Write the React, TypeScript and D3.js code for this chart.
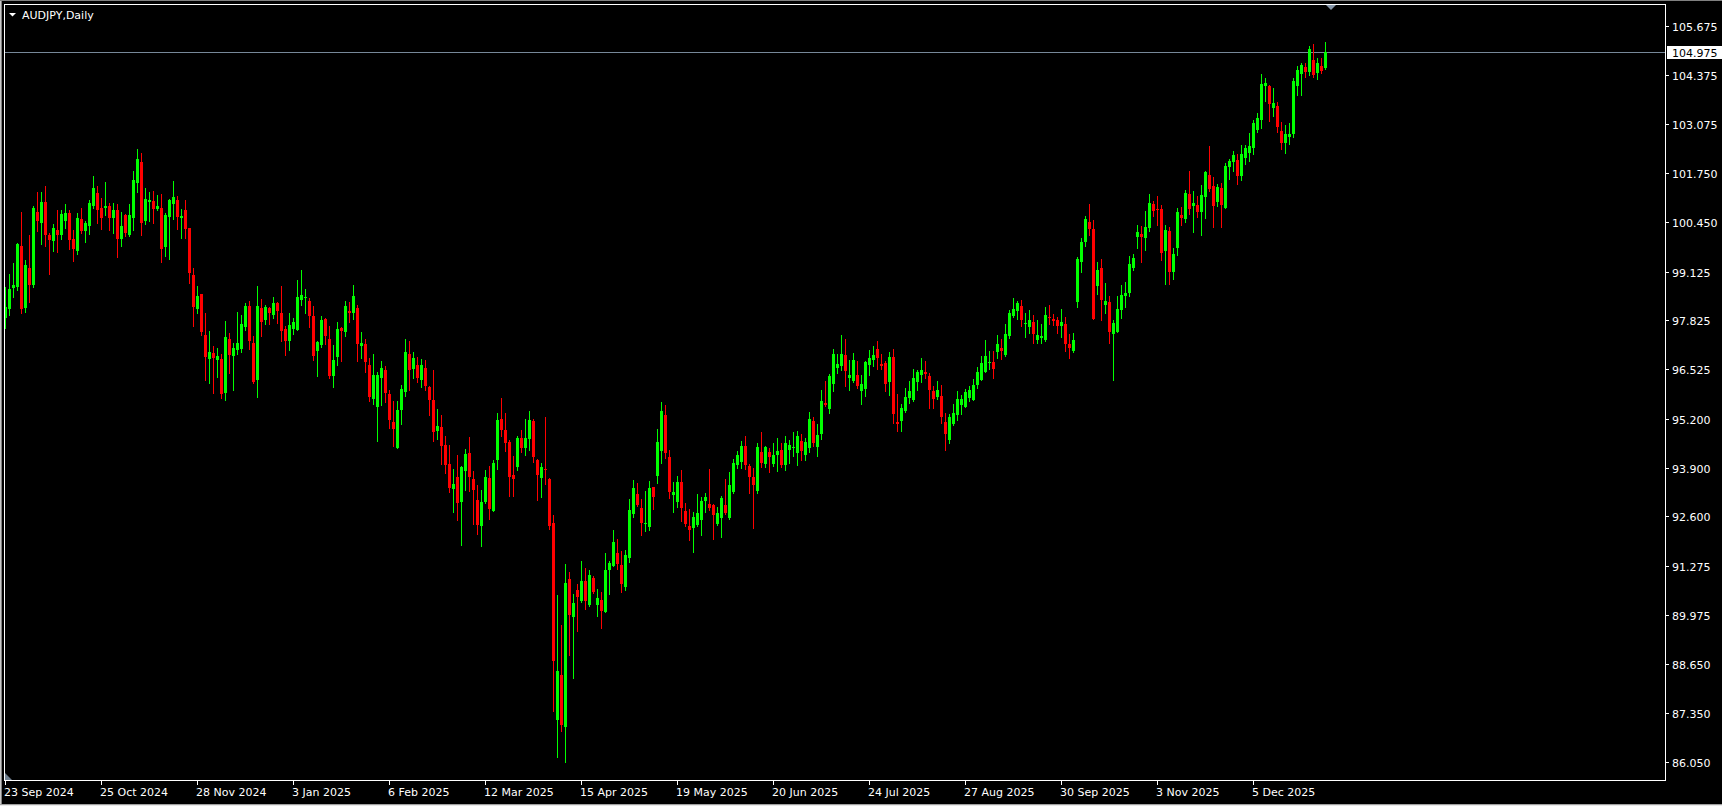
import React, { useEffect, useRef } from "react";
import * as d3 from "d3";

// chart title (symbol, period)
const chartTitle = "AUDJPY,Daily";

// time scale labels, one every 24 bars starting at the first bar
const timeLabels = [
    "23 Sep 2024", "25 Oct 2024", "28 Nov 2024", "3 Jan 2025", "6 Feb 2025",
    "12 Mar 2025", "15 Apr 2025", "19 May 2025", "20 Jun 2025", "24 Jul 2025",
    "27 Aug 2025", "30 Sep 2025", "3 Nov 2025", "5 Dec 2025",
];
const labelEvery = 24;

// price scale labels
const priceTicks = [
    105.675, 104.375, 103.075, 101.75, 100.45, 99.125, 97.825, 96.525,
    95.2, 93.9, 92.6, 91.275, 89.975, 88.65, 87.35, 86.05,
];
const bidPrice = 104.975;

// daily bars (OHLC), oldest first
const opens = [
    97.88, 98.12, 98.68, 98.72, 99.81, 98.16, 99.22, 98.78, 100.72, 100.43,
    100.98, 100.10, 99.94, 100.24, 100.10, 100.48, 100.69, 99.99, 99.68, 100.53,
    100.21, 100.34, 100.88, 101.22, 100.82, 100.82, 100.88, 100.56, 100.77, 99.99,
    100.63, 100.10, 100.56, 101.49, 102.05, 100.47, 100.98, 101.01, 100.80, 100.82,
    99.78, 100.58, 100.93, 101.03, 100.56, 100.77, 100.29, 99.03, 98.13, 98.53,
    97.44, 96.80, 96.96, 96.77, 96.80, 95.89, 97.33, 96.88, 97.04, 97.06,
    97.65, 98.21, 97.22, 96.23, 98.16, 97.83, 98.16, 97.97, 98.29, 98.02,
    97.60, 97.28, 97.60, 97.57, 98.36, 98.42, 98.35, 97.94, 97.01, 97.17,
    97.86, 97.33, 96.34, 96.85, 97.62, 97.51, 98.07, 98.02, 98.16, 97.14,
    97.19, 96.63, 95.73, 95.51, 96.29, 96.50, 95.85, 95.12, 94.43, 95.44,
    95.91, 96.92, 96.53, 96.63, 96.23, 96.56, 96.04, 95.70, 94.88, 94.98,
    94.50, 94.00, 93.33, 93.65, 92.98, 93.81, 94.28, 93.59, 93.03, 92.34,
    92.98, 93.62, 92.74, 94.10, 95.19, 94.90, 94.58, 93.70, 93.91, 94.69,
    94.41, 94.66, 95.14, 94.10, 93.63, 93.85, 93.60, 92.42, 87.17, 88.37,
    86.97, 90.93, 89.92, 90.64, 90.34, 90.88, 90.24, 90.96, 90.24, 90.37,
    90.05, 91.17, 91.28, 91.62, 91.30, 90.72, 91.49, 92.66, 93.20, 92.82,
    92.40, 92.32, 93.38, 93.68, 94.34, 95.30, 94.18, 93.17, 92.98, 93.52,
    92.74, 92.34, 92.29, 92.37, 92.50, 93.01, 92.93, 92.90, 92.40, 92.56,
    92.90, 92.56, 93.25, 93.97, 94.05, 94.48, 93.94, 93.65, 93.28, 94.32,
    94.00, 94.32, 94.00, 94.24, 94.37, 93.97, 94.37, 94.42, 94.29, 94.61,
    94.24, 94.43, 95.14, 94.45, 94.80, 95.62, 95.46, 96.13, 96.56, 96.61,
    96.90, 96.29, 96.21, 96.37, 95.94, 96.00, 96.63, 96.77, 97.06, 96.66,
    96.69, 96.18, 96.85, 95.11, 95.14, 95.41, 95.76, 95.70, 96.18, 96.37,
    96.45, 96.34, 95.94, 95.78, 95.81, 95.11, 94.63, 95.06, 95.30, 95.57,
    95.51, 95.76, 95.70, 96.10, 96.24, 96.45, 96.71, 96.71, 96.98, 97.09,
    96.90, 97.41, 97.94, 98.08, 98.21, 97.74, 97.65, 97.78, 97.30, 97.36,
    97.30, 97.92, 97.86, 97.83, 97.68, 97.73, 97.20, 97.01, 98.32, 99.38,
    99.92, 100.45, 100.26, 98.74, 99.22, 98.24, 98.32, 97.46, 97.52, 98.10,
    98.48, 98.55, 99.22, 100.05, 100.13, 100.02, 100.29, 100.93, 100.79, 100.79,
    99.67, 100.21, 99.12, 99.76, 100.64, 100.53, 101.20, 100.88, 100.90, 100.72,
    101.12, 101.70, 101.41, 100.98, 101.36, 100.82, 101.92, 102.05, 102.10, 101.68,
    102.16, 102.29, 102.42, 102.90, 103.17, 104.07, 104.07, 103.49, 103.54, 102.88,
    102.56, 102.72, 102.80, 104.07, 104.39, 104.58, 104.45, 104.77, 104.42, 104.61,
    104.55,
];
const highs = [
    98.72, 99.06, 99.35, 99.90, 100.72, 99.44, 100.10, 100.88, 101.25, 101.25,
    101.41, 100.15, 100.40, 100.77, 100.77, 100.93, 100.77, 100.24, 100.68, 100.82,
    100.47, 101.03, 101.67, 101.41, 101.09, 101.51, 100.96, 100.96, 100.93, 100.72,
    100.66, 100.93, 101.81, 102.40, 102.29, 101.35, 101.25, 101.27, 101.17, 101.19,
    100.69, 101.06, 101.54, 101.14, 100.80, 101.03, 100.29, 99.22, 98.74, 98.53,
    98.02, 97.54, 97.14, 97.09, 96.93, 97.81, 97.49, 97.22, 98.05, 97.97,
    98.29, 98.34, 97.41, 98.74, 98.39, 98.24, 98.18, 98.45, 98.32, 98.74,
    97.67, 98.02, 97.89, 98.90, 99.17, 98.66, 98.42, 98.20, 97.28, 97.94,
    97.89, 97.67, 97.17, 97.78, 97.65, 98.34, 98.32, 98.77, 98.23, 97.51,
    97.33, 96.82, 96.92, 96.45, 96.75, 96.61, 95.97, 95.67, 95.67, 96.10,
    97.33, 97.28, 96.98, 96.85, 96.79, 96.76, 96.07, 96.50, 95.46, 95.30,
    94.74, 94.50, 93.86, 94.24, 93.94, 94.40, 94.72, 93.81, 93.43, 93.30,
    93.83, 93.94, 94.10, 95.35, 95.75, 95.35, 94.63, 94.21, 94.74, 94.90,
    95.20, 95.41, 95.19, 94.14, 94.02, 95.25, 93.62, 92.64, 90.50, 89.70,
    91.33, 91.12, 90.52, 90.80, 91.41, 91.22, 91.17, 91.01, 90.66, 90.58,
    91.62, 91.41, 92.24, 92.00, 91.68, 91.70, 93.06, 93.57, 93.49, 93.06,
    93.28, 93.54, 93.38, 94.93, 95.65, 95.57, 94.37, 93.52, 93.68, 93.84,
    92.96, 92.80, 92.72, 93.20, 93.12, 93.22, 93.86, 92.93, 92.85, 93.14,
    93.60, 93.78, 94.13, 94.34, 94.61, 94.74, 94.00, 93.89, 94.56, 94.85,
    94.48, 94.42, 94.56, 94.69, 94.56, 94.74, 94.64, 94.85, 94.88, 94.80,
    94.69, 95.38, 95.25, 95.06, 95.97, 96.21, 96.40, 97.06, 96.93, 97.44,
    97.33, 96.77, 96.95, 96.74, 96.37, 96.74, 97.03, 97.14, 97.28, 96.93,
    96.74, 96.98, 97.06, 95.86, 95.60, 96.02, 96.21, 96.53, 96.50, 96.82,
    96.74, 96.42, 96.08, 96.21, 96.10, 95.36, 95.33, 95.60, 95.94, 95.84,
    96.00, 96.08, 96.26, 96.58, 96.87, 97.30, 97.01, 97.01, 97.44, 97.33,
    97.73, 98.10, 98.42, 98.34, 98.37, 98.02, 98.10, 97.97, 97.83, 97.73,
    98.18, 98.23, 97.99, 97.91, 98.13, 97.92, 97.46, 97.49, 99.52, 100.02,
    100.61, 100.93, 100.50, 99.38, 99.46, 98.82, 98.48, 97.84, 98.48, 98.77,
    98.85, 99.54, 99.60, 100.37, 100.34, 100.74, 101.20, 101.01, 101.14, 100.90,
    100.37, 100.31, 99.76, 100.82, 100.85, 101.30, 101.81, 101.28, 101.14, 101.44,
    101.81, 102.48, 101.65, 101.46, 101.49, 102.02, 102.13, 102.34, 102.26, 102.50,
    102.50, 102.82, 103.17, 103.35, 104.40, 104.29, 104.10, 104.02, 103.65, 103.12,
    103.04, 103.09, 104.29, 104.61, 104.69, 104.69, 105.14, 105.19, 104.82, 104.82,
    105.25,
];
const lows = [
    97.61, 97.98, 98.46, 98.64, 98.01, 98.05, 98.32, 98.71, 100.22, 99.86,
    99.81, 99.06, 99.68, 99.65, 99.99, 100.29, 99.74, 99.42, 99.60, 100.15,
    99.92, 100.13, 100.82, 100.43, 100.27, 100.63, 100.24, 100.16, 99.52, 99.81,
    100.08, 100.08, 100.24, 101.25, 100.10, 100.40, 100.47, 100.42, 100.77, 99.38,
    99.54, 99.46, 100.53, 100.26, 100.02, 100.02, 98.82, 97.68, 98.02, 97.44,
    96.24, 96.16, 95.89, 96.32, 95.75, 95.70, 96.42, 95.97, 96.93, 96.98,
    97.57, 97.06, 96.16, 95.78, 97.41, 97.73, 97.73, 97.90, 97.76, 97.28,
    96.90, 97.04, 97.47, 97.57, 98.23, 98.02, 97.64, 96.76, 96.34, 97.11,
    97.19, 96.29, 96.04, 96.63, 96.75, 97.41, 97.78, 97.86, 96.75, 96.82,
    96.45, 95.67, 95.59, 94.60, 95.57, 95.65, 94.96, 94.47, 94.42, 95.06,
    95.81, 95.97, 96.29, 96.18, 96.04, 95.97, 95.30, 94.60, 94.66, 94.00,
    93.75, 93.25, 92.71, 92.50, 91.83, 93.30, 93.27, 92.39, 92.12, 91.81,
    92.96, 92.53, 92.74, 93.86, 94.74, 94.34, 93.14, 93.14, 93.83, 94.31,
    94.24, 94.37, 94.06, 93.04, 93.12, 93.47, 92.27, 87.42, 86.17, 86.88,
    86.06, 88.90, 88.30, 89.54, 90.32, 90.13, 90.21, 90.56, 89.94, 89.62,
    90.05, 90.53, 91.28, 91.20, 90.58, 90.64, 91.38, 92.58, 92.88, 92.10,
    92.21, 92.24, 92.80, 93.49, 94.02, 94.16, 93.09, 92.72, 92.85, 92.48,
    92.34, 91.97, 91.65, 92.34, 92.10, 92.72, 92.77, 92.00, 92.37, 92.05,
    92.66, 92.53, 93.22, 93.89, 93.89, 93.86, 93.22, 92.29, 93.22, 93.92,
    93.92, 93.78, 93.94, 93.81, 93.92, 93.84, 94.02, 94.21, 93.97, 94.10,
    94.10, 94.32, 94.48, 94.21, 94.66, 95.54, 95.36, 95.94, 96.42, 96.50,
    96.08, 95.97, 96.18, 96.02, 95.60, 95.81, 96.37, 96.61, 96.53, 96.53,
    95.94, 95.84, 95.09, 94.88, 94.88, 95.38, 95.62, 95.68, 95.97, 96.18,
    96.29, 95.49, 95.49, 95.73, 95.09, 94.37, 94.55, 95.04, 95.17, 95.33,
    95.51, 95.68, 95.70, 96.02, 96.24, 96.45, 96.53, 96.29, 96.82, 96.80,
    96.87, 97.36, 97.91, 97.86, 97.67, 97.38, 97.49, 97.22, 97.22, 97.22,
    97.27, 97.73, 97.70, 97.49, 97.38, 97.01, 96.82, 96.98, 98.18, 99.12,
    99.81, 100.10, 97.86, 98.53, 97.84, 98.02, 97.22, 96.24, 97.52, 97.89,
    98.18, 98.48, 99.17, 99.76, 99.38, 99.70, 100.21, 100.61, 100.37, 99.44,
    98.80, 98.80, 98.93, 99.57, 100.37, 100.45, 100.66, 100.18, 100.58, 100.10,
    100.56, 101.28, 100.32, 100.88, 100.32, 100.82, 101.60, 101.81, 101.46, 101.57,
    101.99, 102.08, 102.26, 102.85, 102.95, 103.67, 103.14, 103.27, 102.85, 102.40,
    102.29, 102.53, 102.72, 103.83, 103.83, 104.31, 104.37, 104.31, 104.26, 104.42,
    104.53,
];
const closes = [
    98.19, 98.65, 98.77, 99.86, 98.14, 99.30, 98.78, 100.82, 100.48, 100.98,
    100.11, 99.97, 100.29, 100.10, 100.66, 100.69, 99.97, 99.74, 100.56, 100.21,
    100.42, 100.96, 101.35, 100.78, 100.56, 100.88, 100.56, 100.77, 99.99, 100.34,
    100.16, 100.63, 101.57, 102.13, 100.42, 101.06, 101.03, 100.80, 100.88, 99.73,
    100.63, 101.03, 101.12, 100.58, 100.61, 100.26, 99.09, 98.18, 98.48, 97.52,
    96.85, 96.98, 96.82, 96.88, 95.87, 97.38, 96.90, 97.09, 97.22, 97.73,
    98.21, 97.28, 96.17, 98.20, 97.78, 98.18, 98.02, 98.29, 98.07, 97.54,
    97.28, 97.70, 97.78, 98.45, 98.50, 98.45, 97.94, 96.88, 97.25, 97.83,
    97.41, 96.34, 96.76, 97.60, 97.54, 98.20, 98.02, 98.48, 97.19, 97.22,
    96.72, 95.78, 96.37, 96.37, 96.56, 95.88, 95.16, 94.93, 95.44, 96.00,
    96.98, 96.50, 96.82, 96.29, 96.63, 96.07, 95.70, 94.85, 95.00, 94.47,
    93.97, 93.35, 93.46, 92.96, 93.91, 94.26, 93.65, 93.30, 92.37, 92.98,
    93.65, 92.80, 94.02, 95.16, 94.90, 94.56, 93.65, 93.59, 94.69, 94.43,
    94.70, 95.17, 94.19, 93.69, 93.92, 93.83, 92.35, 88.73, 88.48, 87.04,
    90.82, 89.97, 90.29, 90.45, 90.88, 90.34, 91.04, 90.58, 90.42, 90.08,
    91.17, 91.36, 91.92, 91.33, 90.80, 91.57, 92.77, 93.36, 92.90, 92.42,
    92.42, 93.36, 93.12, 94.58, 95.41, 94.29, 93.25, 93.25, 93.52, 92.82,
    92.40, 92.24, 92.58, 92.69, 93.01, 93.12, 92.82, 92.64, 92.69, 93.09,
    92.69, 93.44, 94.02, 94.24, 94.48, 93.97, 93.65, 93.44, 94.45, 94.02,
    94.45, 94.18, 94.24, 94.34, 93.97, 94.56, 94.50, 94.44, 94.74, 94.34,
    94.58, 95.20, 94.56, 94.77, 95.68, 95.57, 96.34, 96.93, 96.66, 96.93,
    96.47, 96.37, 96.77, 96.08, 96.13, 96.71, 96.82, 96.90, 96.82, 96.61,
    96.13, 96.85, 95.33, 95.06, 95.49, 95.78, 95.94, 96.29, 96.45, 96.50,
    96.40, 95.97, 95.73, 95.97, 95.25, 94.80, 95.25, 95.36, 95.73, 95.73,
    95.91, 95.97, 96.10, 96.45, 96.69, 96.87, 96.72, 96.53, 97.20, 97.01,
    97.46, 98.02, 98.13, 98.29, 97.83, 97.76, 97.83, 97.46, 97.44, 97.41,
    97.97, 97.90, 97.81, 97.68, 97.78, 97.20, 97.09, 97.30, 99.46, 99.92,
    100.53, 100.26, 97.86, 99.17, 98.37, 98.34, 97.52, 97.76, 98.13, 98.50,
    98.55, 99.33, 99.49, 100.18, 100.05, 100.31, 100.96, 100.74, 100.77, 99.62,
    100.23, 99.12, 99.60, 100.72, 100.56, 101.22, 100.80, 100.96, 100.72, 101.17,
    101.78, 101.33, 100.88, 101.38, 100.90, 101.94, 102.08, 102.24, 101.68, 102.26,
    102.42, 102.47, 103.09, 103.22, 104.13, 104.15, 103.60, 103.62, 102.98, 102.56,
    102.80, 102.80, 104.21, 104.50, 104.63, 104.45, 105.06, 104.37, 104.69, 104.47,
    104.975,
];

const FONT = "'DejaVu Sans', Tahoma, sans-serif";

const App: React.FC = () => {
    const svgRef = useRef<SVGSVGElement>(null);

    useEffect(() => {
        if (!svgRef.current) return;
        const width = 1722;
        const height = 806;
        // chart frame (pixel edges)
        const frame = { left: 4, top: 4, right: 1665, bottom: 780 };

        const n = opens.length;
        const xScale = d3.scaleLinear().domain([0, n - 1]).range([5, 5 + 4 * (n - 1)]);
        const yScale = d3.scaleLinear().domain([86.05, 105.675]).range([762, 26]);

        const svg = d3.select(svgRef.current);
        svg.selectAll("*").remove();

        // window background + thin 3d border
        svg.append("rect").attr("width", width).attr("height", height).attr("fill", "#000");
        svg.append("line").attr("x1", 0.5).attr("x2", 0.5).attr("y1", 0).attr("y2", height).attr("stroke", "#c8c8c8");
        svg.append("line").attr("x1", 1.5).attr("x2", 1.5).attr("y1", 1).attr("y2", height - 1).attr("stroke", "#808080");
        svg.append("line").attr("x1", 0).attr("x2", width).attr("y1", 0.5).attr("y2", 0.5).attr("stroke", "#808080");
        svg.append("line").attr("x1", 0).attr("x2", width).attr("y1", height - 1.5).attr("y2", height - 1.5).attr("stroke", "#a0a0a0");
        svg.append("line").attr("x1", 0).attr("x2", width).attr("y1", height - 0.5).attr("y2", height - 0.5).attr("stroke", "#e8e8e8");

        svg.append("defs")
            .append("clipPath")
            .attr("id", "plot-clip")
            .append("rect")
            .attr("x", frame.left + 1)
            .attr("y", frame.top + 1)
            .attr("width", frame.right - frame.left - 1)
            .attr("height", frame.bottom - frame.top - 1);

        const plot = svg.append("g").attr("clip-path", "url(#plot-clip)").attr("shape-rendering", "crispEdges");

        // bid line
        const bidY = Math.round(yScale(bidPrice)) + 0.5;
        plot.append("line")
            .attr("x1", frame.left)
            .attr("x2", frame.right)
            .attr("y1", bidY)
            .attr("y2", bidY)
            .attr("stroke", "#778899");

        // candles
        const idx = d3.range(n);
        const colorOf = (i: number) => (closes[i] >= opens[i] ? "#00ff00" : "#ff0000");

        plot.append("g")
            .selectAll("rect")
            .data(idx)
            .join("rect")
            .attr("x", i => xScale(i))
            .attr("y", i => Math.round(yScale(highs[i])))
            .attr("width", 1)
            .attr("height", i => Math.round(yScale(lows[i])) - Math.round(yScale(highs[i])) + 1)
            .attr("fill", colorOf);

        plot.append("g")
            .selectAll("rect")
            .data(idx)
            .join("rect")
            .attr("x", i => xScale(i) - 1)
            .attr("y", i => Math.round(yScale(Math.max(opens[i], closes[i]))))
            .attr("width", 3)
            .attr("height", i => {
                const top = Math.round(yScale(Math.max(opens[i], closes[i])));
                const bottom = Math.round(yScale(Math.min(opens[i], closes[i])));
                return Math.max(1, bottom - top);
            })
            .attr("fill", colorOf);

        // chart frame
        svg.append("rect")
            .attr("x", frame.left + 0.5)
            .attr("y", frame.top + 0.5)
            .attr("width", frame.right - frame.left)
            .attr("height", frame.bottom - frame.top)
            .attr("fill", "none")
            .attr("stroke", "#fff")
            .attr("shape-rendering", "crispEdges");

        // title
        svg.append("path").attr("d", "M9,13 L16,13 L12.5,16.5 Z").attr("fill", "#fff");
        svg.append("text")
            .attr("x", 22)
            .attr("y", 19)
            .attr("fill", "#fff")
            .style("font-family", FONT)
            .style("font-size", "11px")
            .text(chartTitle);

        // shift marker and scroll marker
        svg.append("path").attr("d", "M1326,5 L1336,5 L1331,10 Z").attr("fill", "#8595a8");
        svg.append("path").attr("d", "M5,773 L5,780 L12,780 Z").attr("fill", "#708090");

        // price axis
        const pAxis = svg.append("g");
        priceTicks.forEach(v => {
            const y = Math.round(yScale(v));
            pAxis.append("line")
                .attr("x1", frame.right + 1)
                .attr("x2", frame.right + 4)
                .attr("y1", y + 0.5)
                .attr("y2", y + 0.5)
                .attr("stroke", "#fff")
                .attr("shape-rendering", "crispEdges");
            pAxis.append("text")
                .attr("x", 1672)
                .attr("y", y + 4.5)
                .attr("fill", "#fff")
                .style("font-family", FONT)
                .style("font-size", "11px")
                .text(d3.format(".3f")(v));
        });

        // bid price label
        const by = Math.round(yScale(bidPrice));
        pAxis.append("rect")
            .attr("x", 1667)
            .attr("y", by - 6)
            .attr("width", width - 1667)
            .attr("height", 13)
            .attr("fill", "#fff");
        pAxis.append("text")
            .attr("x", 1672)
            .attr("y", by + 4.5)
            .attr("fill", "#000")
            .style("font-family", FONT)
            .style("font-size", "11px")
            .text(d3.format(".3f")(bidPrice));

        // time axis
        const tAxis = svg.append("g");
        timeLabels.forEach((label, k) => {
            const x = xScale(k * labelEvery);
            tAxis.append("line")
                .attr("x1", x + 0.5)
                .attr("x2", x + 0.5)
                .attr("y1", frame.bottom + 1)
                .attr("y2", frame.bottom + 5)
                .attr("stroke", "#fff")
                .attr("shape-rendering", "crispEdges");
            tAxis.append("text")
                .attr("x", x - 1)
                .attr("y", 796)
                .attr("fill", "#fff")
                .style("font-family", FONT)
                .style("font-size", "11px")
                .text(label);
        });
    }, []);

    return (
        <>
            <style>{"body{margin:0;background:#000;overflow:hidden}"}</style>
            <svg ref={svgRef} width={1722} height={806} style={{ display: "block" }}></svg>
        </>
    );
};

export default App;
